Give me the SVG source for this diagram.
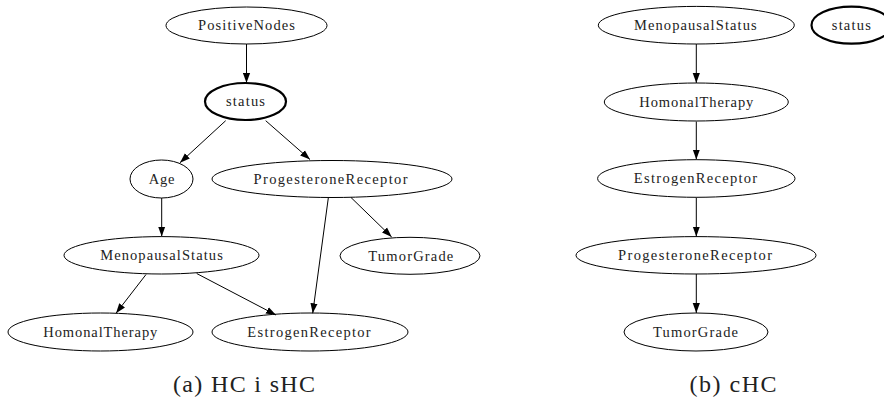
<svg xmlns="http://www.w3.org/2000/svg" width="884" height="405" viewBox="0 0 884 405">
<style>
.n ellipse{fill:none;stroke:#000;stroke-width:1}
.n.b ellipse{stroke-width:2.2}
.n text{font-family:'Liberation Serif','DejaVu Serif',serif;font-size:14.5px;fill:#222;text-anchor:middle}
.e line{stroke:#000;stroke-width:1;marker-end:url(#ah)}
.cap{font-family:'Liberation Serif','DejaVu Serif',serif;font-size:24px;fill:#222;text-anchor:middle}
</style>
<defs>
<marker id="ah" markerUnits="userSpaceOnUse" markerWidth="10" markerHeight="8" refX="10" refY="4" orient="auto">
<path d="M0,0.4 L10,4 L0,7.6 z" fill="#000"/>
</marker>
</defs>
<rect width="884" height="405" fill="#fff"/>
<g id="edges" class="e">
<line x1="246.5" y1="44" x2="246.5" y2="83"/>
<line x1="225.7" y1="120.7" x2="180" y2="162.7"/>
<line x1="265.7" y1="120.7" x2="310" y2="159.5"/>
<line x1="161.7" y1="198" x2="161.7" y2="236.5"/>
<line x1="328.3" y1="198" x2="312.7" y2="313.3"/>
<line x1="351" y1="197.5" x2="391.7" y2="237"/>
<line x1="146" y1="274.5" x2="116" y2="313.3"/>
<line x1="196.7" y1="273.5" x2="276" y2="315"/>
<line x1="696.3" y1="44" x2="696.3" y2="83"/>
<line x1="696.3" y1="121.5" x2="696.3" y2="159.5"/>
<line x1="696.3" y1="197.5" x2="696.3" y2="236.5"/>
<line x1="696.3" y1="274" x2="696.3" y2="313"/>
</g>
<g id="a_PositiveNodes" class="n"><ellipse cx="246.5" cy="25.5" rx="80.5" ry="18.5"/><text x="246.5" y="30.3" textLength="97" lengthAdjust="spacing">PositiveNodes</text></g>
<g id="a_status" class="n b"><ellipse cx="245.5" cy="101.5" rx="40.5" ry="18.5"/><text x="245.5" y="106.3" textLength="39" lengthAdjust="spacing">status</text></g>
<g id="a_Age" class="n"><ellipse cx="161.5" cy="179" rx="31.5" ry="19"/><text x="161.5" y="183.8" textLength="25.7" lengthAdjust="spacing">Age</text></g>
<g id="a_ProgesteroneReceptor" class="n"><ellipse cx="332" cy="179" rx="120" ry="18.5"/><text x="330.5" y="183.8" textLength="154" lengthAdjust="spacing">ProgesteroneReceptor</text></g>
<g id="a_MenopausalStatus" class="n"><ellipse cx="161.5" cy="255.3" rx="97.5" ry="18.7"/><text x="161.5" y="260.1" textLength="122.7" lengthAdjust="spacing">MenopausalStatus</text></g>
<g id="a_TumorGrade" class="n"><ellipse cx="410" cy="255.8" rx="70" ry="18.5"/><text x="410.8" y="260.6" textLength="85" lengthAdjust="spacing">TumorGrade</text></g>
<g id="a_HomonalTherapy" class="n"><ellipse cx="100.5" cy="332" rx="92.5" ry="19"/><text x="100.3" y="336.8" textLength="114" lengthAdjust="spacing">HomonalTherapy</text></g>
<g id="a_EstrogenReceptor" class="n"><ellipse cx="310" cy="332" rx="98" ry="19"/><text x="309" y="336.8" textLength="123.4" lengthAdjust="spacing">EstrogenReceptor</text></g>
<g id="b_MenopausalStatus" class="n"><ellipse cx="696.3" cy="25.2" rx="98" ry="18.8"/><text x="695.3" y="30" textLength="122.7" lengthAdjust="spacing">MenopausalStatus</text></g>
<g id="b_status" class="n b"><ellipse cx="851.5" cy="25.2" rx="40" ry="18.5"/><text x="851.3" y="30" textLength="39" lengthAdjust="spacing">status</text></g>
<g id="b_HomonalTherapy" class="n"><ellipse cx="696.3" cy="102" rx="92" ry="19"/><text x="696.3" y="106.8" textLength="114" lengthAdjust="spacing">HomonalTherapy</text></g>
<g id="b_EstrogenReceptor" class="n"><ellipse cx="696.3" cy="178.5" rx="98.7" ry="18.8"/><text x="695.5" y="183.3" textLength="123.4" lengthAdjust="spacing">EstrogenReceptor</text></g>
<g id="b_ProgesteroneReceptor" class="n"><ellipse cx="696" cy="255.3" rx="120" ry="18.7"/><text x="695" y="260.1" textLength="154" lengthAdjust="spacing">ProgesteroneReceptor</text></g>
<g id="b_TumorGrade" class="n"><ellipse cx="696" cy="332" rx="72" ry="19"/><text x="695.5" y="336.8" textLength="85" lengthAdjust="spacing">TumorGrade</text></g>
<text class="cap" x="244" y="392" textLength="142" lengthAdjust="spacing">(a) HC i sHC</text>
<text class="cap" x="733" y="392" textLength="87" lengthAdjust="spacing">(b) cHC</text>
</svg>
